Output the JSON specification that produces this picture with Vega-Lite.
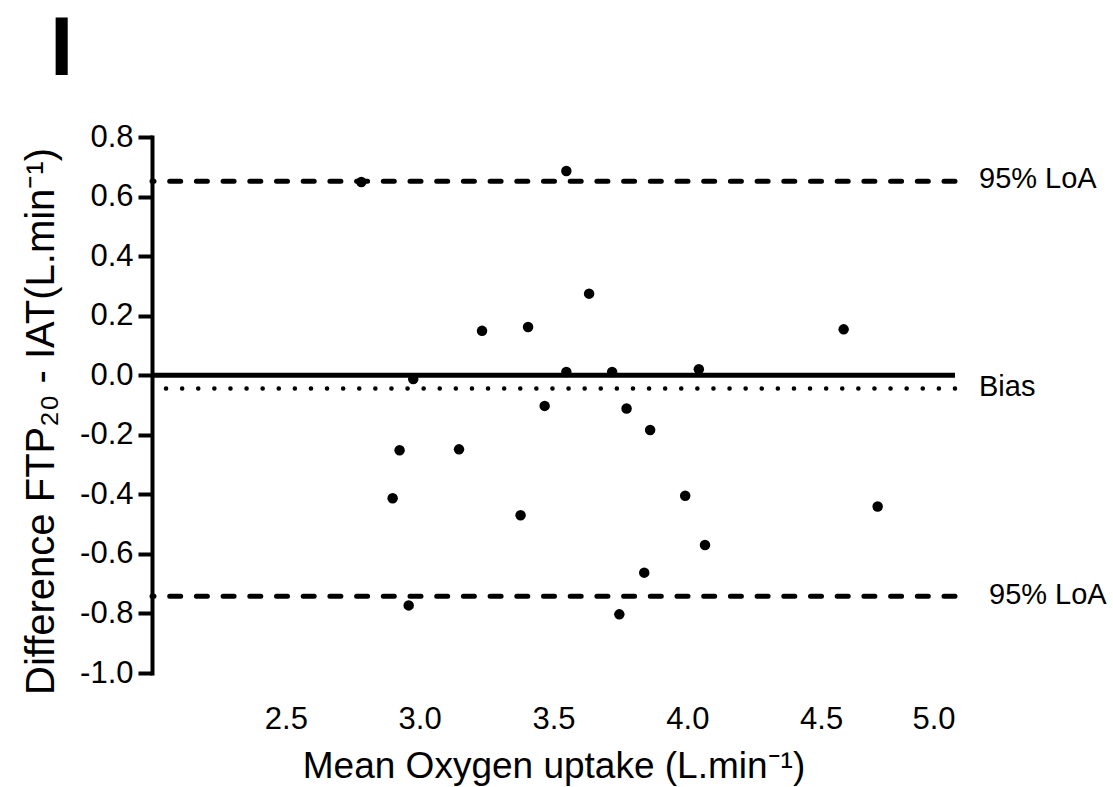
{
  "$schema": "https://vega.github.io/schema/vega-lite/v6.json",
  "autosize": "none",
  "width": 803,
  "height": 536,
  "padding": {"left": 152, "top": 137, "right": 158, "bottom": 114},
  "background": "white",
  "title": {"text": "I", "fontSize": 84, "fontWeight": "bold", "anchor": "start", "frame": "group", "dx": -102, "dy": 56, "offset": 0, "font": "Liberation Sans", "color": "black", "baseline": "bottom"},
  "datasets": {
    "points": [
      {"mean": 2.782, "diff": 0.649},
      {"mean": 3.548, "diff": 0.686},
      {"mean": 3.633, "diff": 0.274},
      {"mean": 3.233, "diff": 0.149},
      {"mean": 3.405, "diff": 0.162},
      {"mean": 3.548, "diff": 0.011},
      {"mean": 3.719, "diff": 0.011},
      {"mean": 2.976, "diff": -0.013},
      {"mean": 4.043, "diff": 0.020},
      {"mean": 4.584, "diff": 0.154},
      {"mean": 3.992, "diff": -0.405},
      {"mean": 4.711, "diff": -0.441},
      {"mean": 2.925, "diff": -0.252},
      {"mean": 3.147, "diff": -0.249},
      {"mean": 2.899, "diff": -0.413},
      {"mean": 3.377, "diff": -0.470},
      {"mean": 3.467, "diff": -0.103},
      {"mean": 3.773, "diff": -0.112},
      {"mean": 3.861, "diff": -0.184},
      {"mean": 4.066, "diff": -0.570},
      {"mean": 3.839, "diff": -0.663},
      {"mean": 2.959, "diff": -0.773},
      {"mean": 3.746, "diff": -0.803}
    ],
    "lines": [
      {"name": "upper", "label": "95% LoA", "diff": 0.651},
      {"name": "bias", "label": "Bias", "diff": -0.045},
      {"name": "lower", "label": "95% LoA", "diff": -0.742},
      {"name": "zero", "label": "", "diff": 0}
    ]
  },
  "encoding": {
    "y": {
      "field": "diff", "type": "quantitative",
      "scale": {"domain": [-1.0, 0.8], "nice": false, "zero": false},
      "axis": {
        "title": "Difference FTP₂₀ - IAT(L.min⁻¹)",
        "values": [-1.0, -0.8, -0.6, -0.4, -0.2, 0.0, 0.2, 0.4, 0.6, 0.8],
        "format": ".1f",
        "grid": false,
        "domainColor": "black", "domainWidth": 4, "domainCap": "square",
        "tickColor": "black", "tickWidth": 4, "tickSize": 14,
        "labelFont": "Liberation Sans", "labelFontSize": 31, "labelColor": "black", "labelPadding": 5,
        "titleFont": "Liberation Sans", "titleFontSize": 40, "titleFontWeight": "normal", "titleColor": "black", "titlePadding": 18, "titleY": 284
      }
    }
  },
  "layer": [
    {
      "data": {"name": "lines"},
      "transform": [{"filter": "datum.name === 'upper' || datum.name === 'lower'"}],
      "mark": {"type": "rule", "color": "black", "strokeWidth": 5, "strokeDash": [11, 15.7], "strokeCap": "round"}
    },
    {
      "data": {"name": "lines"},
      "transform": [{"filter": "datum.name === 'bias'"}],
      "mark": {"type": "rule", "color": "black", "strokeWidth": 4.5, "strokeDash": [0.1, 16], "strokeCap": "round"}
    },
    {
      "data": {"name": "lines"},
      "transform": [{"filter": "datum.name === 'zero'"}],
      "mark": {"type": "rule", "color": "black", "strokeWidth": 5}
    },
    {
      "data": {"name": "points"},
      "mark": {"type": "point", "shape": "circle", "filled": true, "color": "black", "size": 110, "opacity": 1},
      "encoding": {
        "x": {
          "field": "mean", "type": "quantitative",
          "scale": {"domain": [2.0, 5.0], "nice": false, "zero": false},
          "axis": {
            "title": "Mean Oxygen uptake (L.min⁻¹)",
            "values": [2.5, 3.0, 3.5, 4.0, 4.5, 5.0],
            "format": ".1f",
            "grid": false, "domain": false, "ticks": false,
            "labelFont": "Liberation Sans", "labelFontSize": 31, "labelColor": "black", "labelPadding": 31,
            "titleFont": "Liberation Sans", "titleFontSize": 37, "titleFontWeight": "normal", "titleColor": "black", "titlePadding": 14
          }
        }
      }
    },
    {
      "data": {"name": "lines"},
      "transform": [{"filter": "datum.name === 'upper' || datum.name === 'bias'"}],
      "mark": {"type": "text", "align": "left", "baseline": "middle", "dx": 24, "dy": -2, "font": "Liberation Sans", "fontSize": 29, "color": "black"},
      "encoding": {"x": {"datum": 5.0, "type": "quantitative"}, "text": {"field": "label"}}
    },
    {
      "data": {"name": "lines"},
      "transform": [{"filter": "datum.name === 'lower'"}],
      "mark": {"type": "text", "align": "left", "baseline": "middle", "dx": 34, "dy": -1, "font": "Liberation Sans", "fontSize": 29, "color": "black"},
      "encoding": {"x": {"datum": 5.0, "type": "quantitative"}, "text": {"field": "label"}}
    }
  ],
  "config": {
    "view": {"stroke": null},
    "locale": {"number": {"decimal": ".", "thousands": ",", "grouping": [3], "currency": ["$", ""], "minus": "-"}}
  }
}
